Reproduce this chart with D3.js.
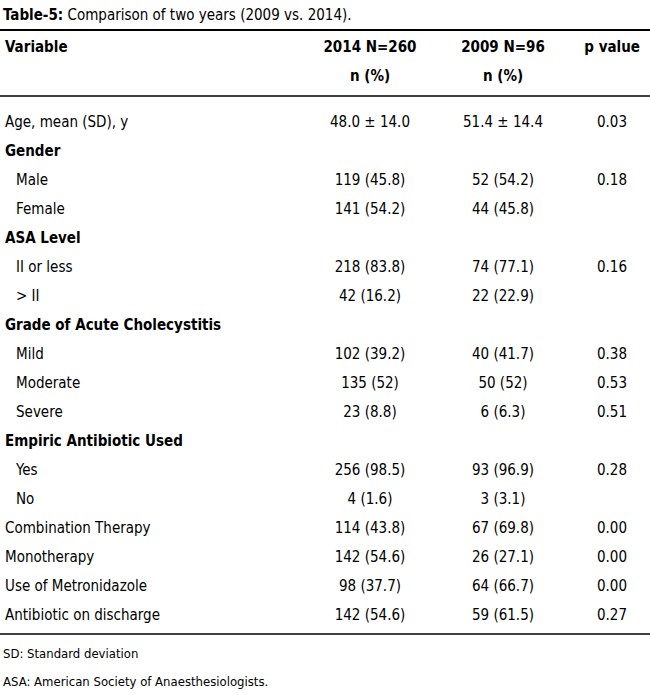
<!DOCTYPE html>
<html><head><meta charset="utf-8">
<script src="https://cdn.jsdelivr.net/npm/d3@7"></script>
<style>body{margin:0;background:#fff}</style>
</head><body>
<div id="tbl"></div>
<script>
// table content
var labels = ["Age, mean (SD), y","Gender","Male","Female","ASA Level","II or less","> II",
  "Grade of Acute Cholecystitis","Mild","Moderate","Severe","Empiric Antibiotic Used","Yes","No",
  "Combination Therapy","Monotherapy","Use of Metronidazole","Antibiotic on discharge"];
var kind = ["row","head","sub","sub","head","sub","sub","head","sub","sub","sub","head","sub","sub","row","row","row","row"];
var col2014 = ["48.0 \u00b1 14.0","","119 (45.8)","141 (54.2)","","218 (83.8)","42 (16.2)","","102 (39.2)","135 (52)","23 (8.8)","","256 (98.5)","4 (1.6)","114 (43.8)","142 (54.6)","98 (37.7)","142 (54.6)"];
var col2009 = ["51.4 \u00b1 14.4","","52 (54.2)","44 (45.8)","","74 (77.1)","22 (22.9)","","40 (41.7)","50 (52)","6 (6.3)","","93 (96.9)","3 (3.1)","67 (69.8)","26 (27.1)","64 (66.7)","59 (61.5)"];
var pvals = ["0.03","","0.18","","","0.16","","","0.38","0.53","0.51","","0.28","","0.00","0.00","0.00","0.27"];
var footnotes = ["SD: Standard deviation","ASA: American Society of Anaesthesiologists."];

var W = 650, H = 695;
var font = "'DejaVu Sans Condensed', 'DejaVu Sans', sans-serif";
var svg = d3.select("#tbl").append("svg").attr("width", W).attr("height", H)
  .style("font-family", font).style("font-stretch", "condensed");

var y = d3.scaleBand().domain(d3.range(labels.length)).range([107, 629]);
var xc = {c1: 370, c2: 503, c3: 612};

// title
var t = svg.append("text").attr("x", 3).attr("y", 20).attr("font-size", 15);
t.append("tspan").attr("font-weight", "bold").text("Table-5:");
t.append("tspan").text(" Comparison of two years (2009 vs. 2014).");

svg.append("line").attr("x1", 0).attr("x2", W).attr("y1", 30).attr("y2", 30).attr("stroke", "#000").attr("stroke-width", 2);
svg.append("line").attr("x1", 0).attr("x2", W).attr("y1", 96).attr("y2", 96).attr("stroke", "#000").attr("stroke-width", 1.5);
svg.append("line").attr("x1", 0).attr("x2", W).attr("y1", 634).attr("y2", 634).attr("stroke", "#000").attr("stroke-width", 1.5);

var hd = svg.append("g").attr("font-size", 15).attr("font-weight", "bold");
hd.append("text").attr("x", 5).attr("y", 52).text("Variable");
hd.append("text").attr("x", xc.c1).attr("y", 52).attr("text-anchor", "middle").text("2014 N=260");
hd.append("text").attr("x", xc.c1).attr("y", 81).attr("text-anchor", "middle").text("n (%)");
hd.append("text").attr("x", xc.c2).attr("y", 52).attr("text-anchor", "middle").text("2009 N=96");
hd.append("text").attr("x", xc.c2).attr("y", 81).attr("text-anchor", "middle").text("n (%)");
hd.append("text").attr("x", 640).attr("y", 52).attr("text-anchor", "end").text("p value");

var rows = svg.selectAll("g.row").data(labels).enter().append("g")
  .attr("transform", function (d, i) { return "translate(0," + (y(i) + y.bandwidth() / 2 + 5) + ")"; })
  .attr("font-size", 15);
rows.append("text")
  .attr("x", function (d, i) { return kind[i] == "sub" ? 16 : 5; })
  .attr("font-weight", function (d, i) { return kind[i] == "head" ? "bold" : "normal"; })
  .text(function (d) { return d; });
rows.append("text").attr("x", xc.c1).attr("text-anchor", "middle").text(function (d, i) { return col2014[i]; });
rows.append("text").attr("x", xc.c2).attr("text-anchor", "middle").text(function (d, i) { return col2009[i]; });
rows.append("text").attr("x", xc.c3).attr("text-anchor", "middle").text(function (d, i) { return pvals[i]; });

svg.selectAll("text.fn").data(footnotes).enter().append("text")
  .attr("x", 3).attr("y", function (d, i) { return 658 + i * 28; })
  .attr("font-size", 13).text(function (d) { return d; });
</script>
</body></html>
